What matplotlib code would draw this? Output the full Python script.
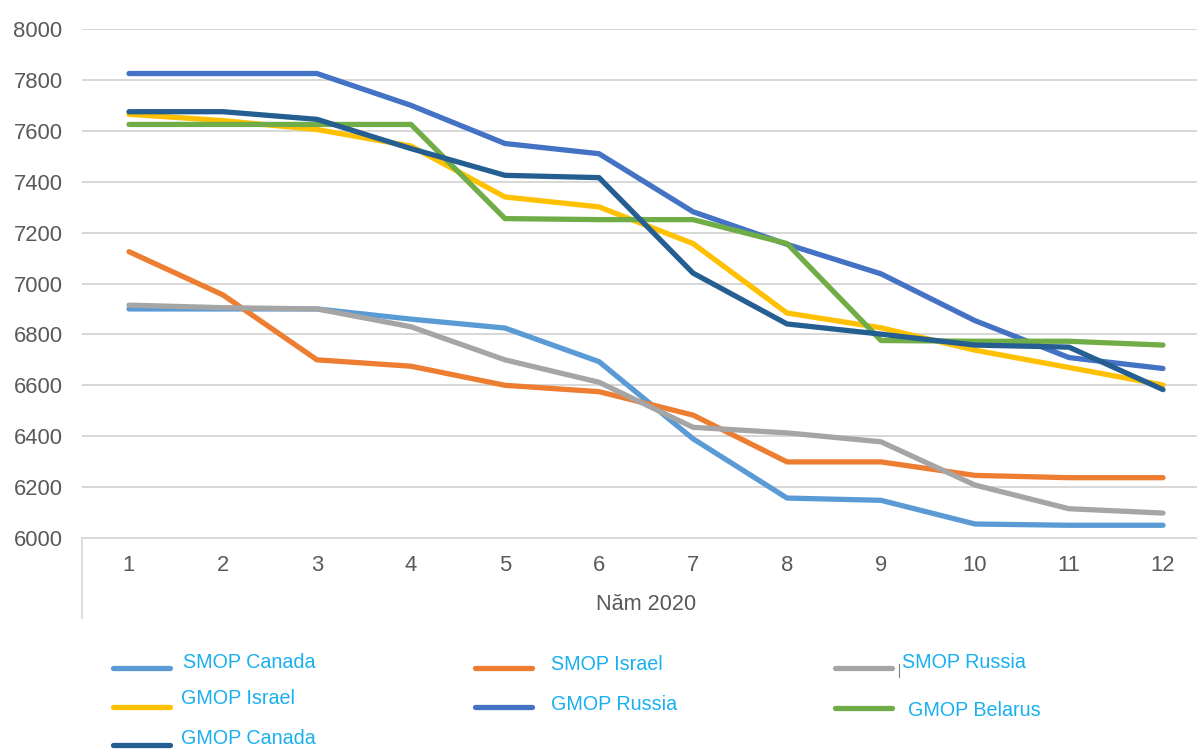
import matplotlib
matplotlib.use("Agg")
import matplotlib.pyplot as plt
from matplotlib.lines import Line2D

plt.rcParams['font.family'] = ['Liberation Sans', 'DejaVu Sans']

months = [1, 2, 3, 4, 5, 6, 7, 8, 9, 10, 11, 12]
x_title = "Năm 2020"

smop_canada = [6900, 6900, 6900, 6860, 6825, 6693, 6390, 6157, 6148, 6055, 6050, 6050]
smop_israel = [7125, 6955, 6700, 6675, 6600, 6575, 6483, 6299, 6299, 6246, 6237, 6237]
smop_russia = [6915, 6905, 6900, 6830, 6700, 6612, 6435, 6413, 6378, 6208, 6115, 6098]
gmop_israel = [7665, 7640, 7605, 7540, 7340, 7301, 7157, 6884, 6826, 6738, 6670, 6601]
gmop_russia = [7825, 7825, 7825, 7700, 7550, 7510, 7282, 7154, 7038, 6854, 6709, 6666]
gmop_belarus = [7625, 7625, 7625, 7625, 7255, 7251, 7251, 7157, 6776, 6773, 6773, 6758]
gmop_canada = [7675, 7675, 7645, 7530, 7425, 7416, 7041, 6841, 6801, 6758, 6750, 6583]

series = [
    ("SMOP Canada", smop_canada, "#5B9BD5"),
    ("SMOP Israel", smop_israel, "#ED7D31"),
    ("SMOP Russia", smop_russia, "#A5A5A5"),
    ("GMOP Israel", gmop_israel, "#FFC000"),
    ("GMOP Russia", gmop_russia, "#4472C4"),
    ("GMOP Belarus", gmop_belarus, "#70AD47"),
    ("GMOP Canada", gmop_canada, "#255E91"),
]

W, H = 1197, 749
fig = plt.figure(figsize=(W / 100, H / 100), dpi=100)
ax = fig.add_axes([82 / W, 1 - 538 / H, 1 - 82 / W, (538 - 29) / H])

for name, vals, col in series:
    ax.plot(months, vals, color=col, lw=3.8, solid_capstyle='round',
            solid_joinstyle='round', clip_on=False)

ax.set_xlim(0.5, 0.5 + (W - 82) / 94.0)
ax.set_ylim(6000, 8000)
ax.set_yticks(range(6000, 8001, 200))
ax.set_xticks(months)
ax.grid(axis='y', color='#D4D4D4', lw=1.3)
ax.set_axisbelow(True)
for s in ['top', 'right', 'left']:
    ax.spines[s].set_visible(False)
ax.spines['bottom'].set_color('#D9D9D9')
ax.spines['bottom'].set_linewidth(1.3)
ax.tick_params(axis='both', length=0, labelsize=15.8, labelcolor='#595959')
ax.tick_params(axis='y', pad=14)
ax.tick_params(axis='x', pad=12)

# category divider line
fig.add_artist(Line2D([82 / W, 82 / W], [1 - 538 / H, 1 - 618 / H],
                      color='#D9D9D9', lw=1.3))
fig.text(646 / W, 1 - 604 / H, x_title, ha='center', va='center',
         fontsize=15.6, color='#595959')

# legend
leg_pos = [
    (113, 668, 183, 662),
    (475, 668, 551, 664),
    (835, 668, 902, 662),
    (113, 707, 181, 698),
    (475, 707, 551, 704),
    (835, 708, 908, 711),
    (113, 745, 181, 738),
]
for (name, vals, col), (lx, ly, tx, ty) in zip(series, leg_pos):
    fig.add_artist(Line2D([lx / W, (lx + 57) / W], [1 - ly / H, 1 - ly / H],
                          color=col, lw=3.8, solid_capstyle='round'))
    fig.text(tx / W, 1 - ty / H, name, ha='left', va='center',
             fontsize=14.2, color='#1AAFEF')

fig.add_artist(Line2D([899 / W, 899 / W], [1 - 664 / H, 1 - 677 / H],
                      color='#7F7F7F', lw=0.8))

fig.savefig("out.png", dpi=100)
